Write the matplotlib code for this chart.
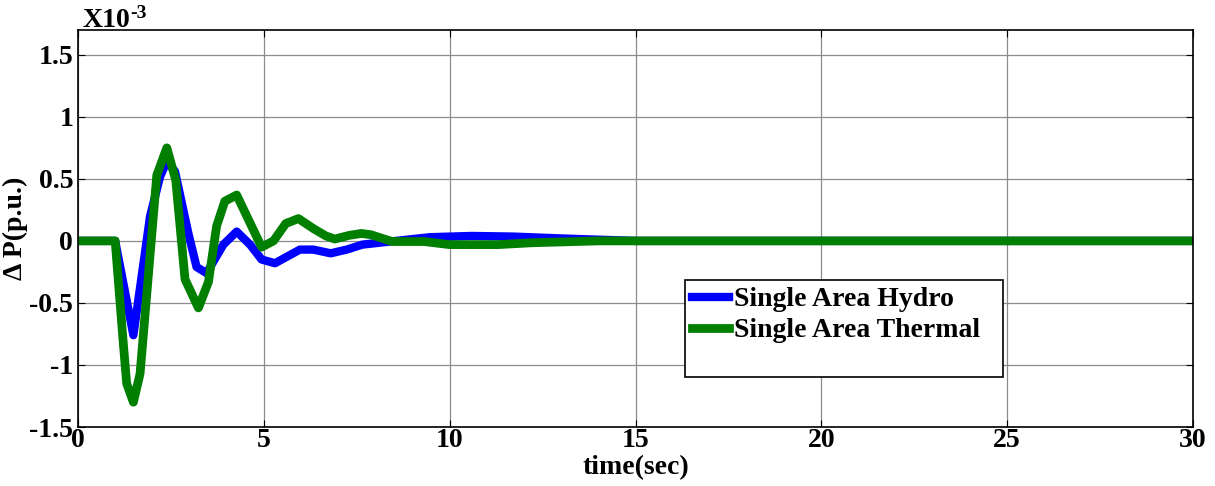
import matplotlib
matplotlib.use("Agg")
import matplotlib.pyplot as plt
from matplotlib.patches import Rectangle
from matplotlib.ticker import FuncFormatter

# Data (values in units of 1e-3 p.u.)
t_hydro = [0, 1.0, 1.49, 1.94, 2.21, 2.39, 2.61, 2.97, 3.19, 3.46, 3.91, 4.27,
           4.63, 4.94, 5.3, 5.97, 6.33, 6.8, 7.23, 7.65, 8.4, 9.47, 10.6, 11.7,
           13.0, 14.0, 15.0, 30.0]
dp_hydro = [0, 0, -0.76, 0.2, 0.52, 0.64, 0.56, 0.06, -0.21, -0.26, -0.03, 0.075,
            -0.03, -0.15, -0.18, -0.07, -0.07, -0.10, -0.07, -0.03, -0.005, 0.03,
            0.04, 0.035, 0.02, 0.01, 0, 0]

t_thermal = [0, 1.0, 1.22, 1.31, 1.49, 1.67, 2.12, 2.39, 2.63, 2.88, 3.24, 3.51,
             3.73, 3.95, 4.27, 4.94, 5.26, 5.59, 5.93, 6.33, 6.67, 6.91, 7.3, 7.62,
             7.88, 8.45, 9.3, 10.0, 11.3, 12.2, 14.0, 30.0]
dp_thermal = [0, 0, -0.83, -1.15, -1.30, -1.07, 0.53, 0.75, 0.49, -0.31, -0.54, -0.33,
              0.12, 0.32, 0.37, -0.05, 0.0, 0.14, 0.18, 0.10, 0.04, 0.015, 0.045, 0.06,
              0.05, -0.005, -0.005, -0.03, -0.03, -0.015, 0, 0]

labels = ["Single Area Hydro", "Single Area Thermal"]
xticks = [0, 5, 10, 15, 20, 25, 30]
yticks = [-1.5, -1, -0.5, 0, 0.5, 1, 1.5]

plt.rcParams['axes.unicode_minus'] = False
plt.rcParams['font.family'] = ['Liberation Serif', 'DejaVu Serif']
plt.rcParams['font.weight'] = 'bold'

FS = 20

fig = plt.figure(figsize=(12.15, 4.86), dpi=100)
ax = fig.add_axes([78/1215, 1-427/486, (1193-78)/1215, (427-30)/486])

l1, = ax.plot(t_hydro, dp_hydro, color='#0000FF', lw=6, solid_joinstyle='round')
l2, = ax.plot(t_thermal, dp_thermal, color='#007F00', lw=6.3, solid_joinstyle='round')

ax.set_xlim(0, 30)
ax.set_ylim(-1.5, 1.7)
ax.set_xticks(xticks)
ax.set_yticks(yticks)
ax.yaxis.set_major_formatter(FuncFormatter(lambda v, p: f"{v:g}"))
ax.grid(True, color='#8c8c8c', lw=0.9)
ax.set_axisbelow(True)
ax.tick_params(direction='in', top=True, right=True, length=5, width=0.8,
               labelsize=FS, pad=1)
ax.tick_params(axis='y', pad=3.5)
for lab in ax.get_xticklabels() + ax.get_yticklabels():
    lab.set_fontweight('bold')
for s in ax.spines.values():
    s.set_linewidth(1.2)

ax.set_xlabel("time(sec)", fontsize=FS, fontweight='bold', labelpad=1)
ax.set_ylabel("\u0394 P(p.u.)", fontsize=FS, fontweight='bold', labelpad=1)
ax.text(0.004, 1.0076, "X10", transform=ax.transAxes,
        fontsize=FS, fontweight='bold', va='baseline', ha='left')
ax.text(0.047, 1.030, "-3", transform=ax.transAxes,
        fontsize=14, fontweight='bold', va='baseline', ha='left')

# Legend with oversized frame
x0, y0 = (685-78)/1115, (427-377)/397
w, h = (1003-685)/1115, (377-280)/397
ax.add_patch(Rectangle((x0, y0), w, h, transform=ax.transAxes, facecolor='white',
                       edgecolor='black', lw=1.2, zorder=5))
leg = ax.legend([l1, l2], labels, loc='upper left',
                bbox_to_anchor=(x0, y0 + h), frameon=False,
                prop={'size': FS, 'weight': 'bold'}, handlelength=1.35,
                handletextpad=0.15, borderpad=0.25, labelspacing=0.2,
                borderaxespad=0.0)
leg.set_zorder(6)

fig.savefig("out.png", dpi=100)
